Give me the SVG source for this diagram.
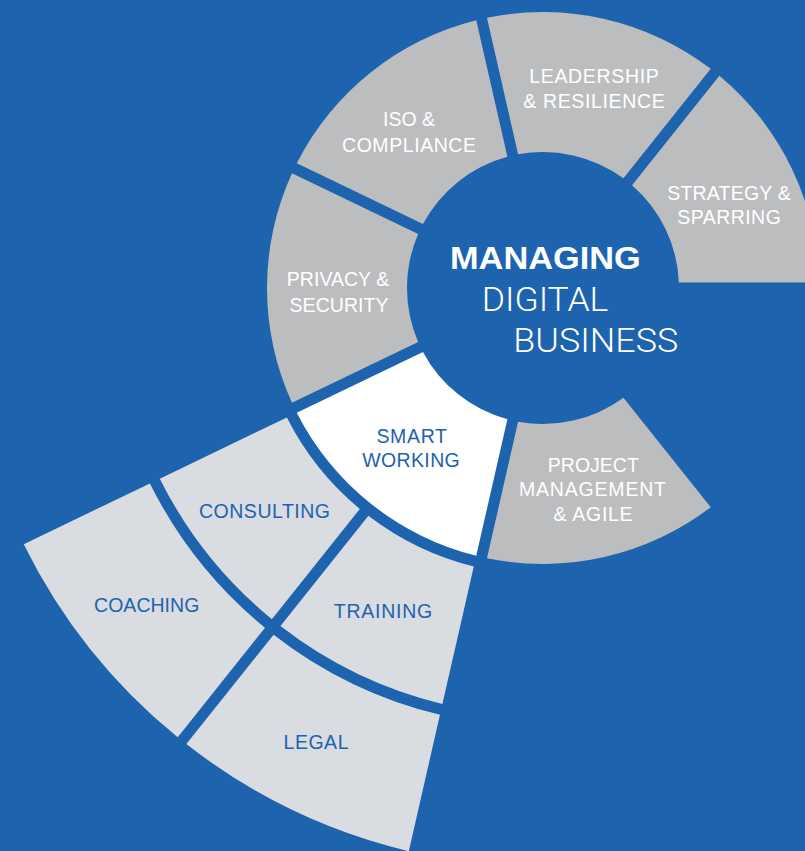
<svg xmlns="http://www.w3.org/2000/svg" width="805" height="851" viewBox="0 0 805 851">
<style>
.seg{fill:#bcbdbf}
.white{fill:#ffffff}
.light{fill:#d9dce1}
.lbl{font-family:"Liberation Sans",Arial,sans-serif;font-size:19.5px;text-anchor:middle}
.lw{fill:#ffffff}
.lb{fill:#2163ad}
.title{font-family:"Liberation Sans",Arial,sans-serif;font-size:32px;font-weight:bold;fill:#ffffff}
.thin{font-family:Roboto,"Liberation Sans",sans-serif;font-size:33px;font-weight:300;fill:#ffffff}
</style>
<rect width="805" height="851" fill="#1d63ae"/>
<g id="connectors"></g>
<g id="strategy">
<path class="seg" d="M719.35,75.69 A276,276 0 0 1 818.95,282.5 L678.89,282.5 A136,136 0 0 0 632.03,185.19 Z"/>
<text class="lbl lw" x="729" y="200" textLength="123.6" lengthAdjust="spacing">STRATEGY &amp;</text>
<text class="lbl lw" x="729" y="224.3" textLength="103.6" lengthAdjust="spacing">SPARRING</text>
</g>
<g id="leadership">
<path class="seg" d="M486.96,17.75 A276,276 0 0 1 710.75,68.83 L623.43,178.33 A136,136 0 0 0 518.12,154.29 Z"/>
<text class="lbl lw" x="594" y="83.3" textLength="129.6" lengthAdjust="spacing">LEADERSHIP</text>
<text class="lbl lw" x="594" y="108.3" textLength="141.5" lengthAdjust="spacing">&amp; RESILIENCE</text>
</g>
<g id="iso">
<path class="seg" d="M296.77,163.32 A276,276 0 0 1 476.24,20.20 L507.40,156.74 A136,136 0 0 0 422.95,224.09 Z"/>
<text class="lbl lw" x="409" y="126" textLength="52" lengthAdjust="spacing">ISO &amp;</text>
<text class="lbl lw" x="409" y="151.7" textLength="134" lengthAdjust="spacing">COMPLIANCE</text>
</g>
<g id="privacy">
<path class="seg" d="M292.00,402.77 A276,276 0 0 1 292.00,173.23 L418.18,234.00 A136,136 0 0 0 418.18,342.00 Z"/>
<text class="lbl lw" x="338" y="286" textLength="102.3" lengthAdjust="spacing">PRIVACY &amp;</text>
<text class="lbl lw" x="339" y="311.7" textLength="99" lengthAdjust="spacing">SECURITY</text>
</g>
<g id="smart-working">
<path class="white" d="M476.24,555.80 A276,276 0 0 1 296.77,412.68 L422.95,351.91 A136,136 0 0 0 507.40,419.26 Z"/>
<text class="lbl lb" x="411.7" y="442.7" textLength="70.6" lengthAdjust="spacing">SMART</text>
<text class="lbl lb" x="411" y="466.7" textLength="97.5" lengthAdjust="spacing">WORKING</text>
</g>
<g id="project">
<path class="seg" d="M710.75,507.17 A276,276 0 0 1 486.96,558.25 L518.12,421.71 A136,136 0 0 0 623.43,397.67 Z"/>
<text class="lbl lw" x="593.3" y="471.7" textLength="91" lengthAdjust="spacing">PROJECT</text>
<text class="lbl lw" x="592.5" y="496" textLength="147" lengthAdjust="spacing">MANAGEMENT</text>
<text class="lbl lw" x="593.1" y="520.7" textLength="79" lengthAdjust="spacing">&amp; AGILE</text>
</g>
<g id="training">
<path class="light" d="M442.41,704.01 A428,428 0 0 1 280.47,626.03 L368.39,515.77 A287,287 0 0 0 473.79,566.53 Z"/>
<text class="lbl lb" x="383" y="618.3" textLength="98.3" lengthAdjust="spacing">TRAINING</text>
</g>
<g id="consulting">
<path class="light" d="M271.87,619.17 A428,428 0 0 1 159.80,478.64 L286.86,417.46 A287,287 0 0 0 359.79,508.92 Z"/>
<text class="lbl lb" x="264.5" y="518.3" textLength="131" lengthAdjust="spacing">CONSULTING</text>
</g>
<g id="legal">
<path class="light" d="M408.81,851.24 A579,579 0 0 1 186.32,744.09 L273.61,634.63 A439,439 0 0 0 439.96,714.74 Z"/>
<text class="lbl lb" x="316" y="749.3" textLength="65" lengthAdjust="spacing">LEGAL</text>
</g>
<g id="coaching">
<path class="light" d="M177.72,737.23 A579,579 0 0 1 23.75,544.16 L149.89,483.41 A439,439 0 0 0 265.01,627.77 Z"/>
<text class="lbl lb" x="146.7" y="612.3" textLength="105.3" lengthAdjust="spacing">COACHING</text>
</g>
<g id="center">
<text class="title" x="450" y="269.3" textLength="190.7" lengthAdjust="spacingAndGlyphs">MANAGING</text>
<text class="thin" x="481.7" y="310.7" textLength="126.6" lengthAdjust="spacingAndGlyphs">DIGITAL</text>
<text class="thin" x="513.3" y="351.7" textLength="165" lengthAdjust="spacingAndGlyphs">BUSINESS</text>
</g>
</svg>
